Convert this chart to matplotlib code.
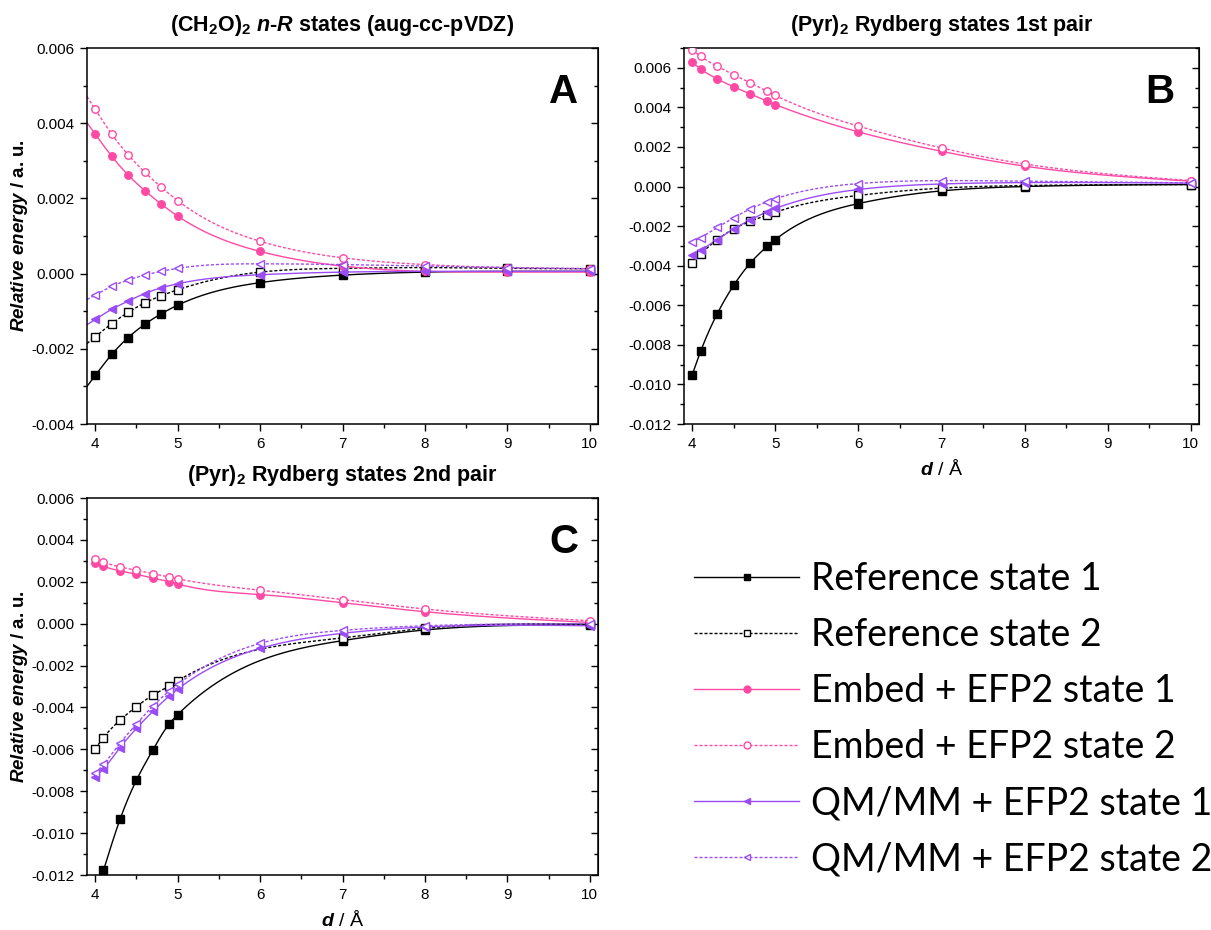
import numpy as np
import matplotlib
matplotlib.use("Agg")
import matplotlib.pyplot as plt
from matplotlib.lines import Line2D
from matplotlib.ticker import MultipleLocator, FormatStrFormatter

plt.rcParams['font.family'] = ['Liberation Sans', 'DejaVu Sans']
plt.rcParams['mathtext.fontset'] = 'custom'
plt.rcParams['mathtext.rm'] = 'Liberation Sans:bold'
plt.rcParams['mathtext.bf'] = 'Liberation Sans:bold'
plt.rcParams['mathtext.it'] = 'Liberation Sans:italic:bold'

# ---------------- data ----------------
A_x = [4.0, 4.2, 4.4, 4.6, 4.8, 5.0, 6, 7, 8, 9, 10]
A_ref1 = [-0.00271, -0.00215, -0.00170, -0.00135, -0.00107, -0.00084, -0.00024, -0.00004, 0.00004, 0.00006, 0.00006]
A_ref2 = [-0.00168, -0.00133, -0.00103, -0.00078, -0.00059, -0.00043, 0.00004, 0.00014, 0.00016, 0.00014, 0.00013]
A_emb1 = [0.00371, 0.00312, 0.00262, 0.00221, 0.00185, 0.00153, 0.00059, 0.00020, 0.00006, 0.00004, 0.00004]
A_emb2 = [0.00437, 0.00371, 0.00316, 0.00270, 0.00230, 0.00194, 0.00086, 0.00042, 0.00024, 0.00016, 0.00013]
A_qm1 = [-0.00122, -0.00095, -0.00073, -0.00053, -0.00038, -0.00027, -0.00003, 0.00004, 0.00006, 0.00006, 0.00006]
A_qm2 = [-0.00057, -0.00034, -0.00017, -0.00004, 0.00006, 0.00014, 0.00026, 0.00024, 0.00020, 0.00016, 0.00013]

B_x = [4.0, 4.1, 4.3, 4.5, 4.7, 4.9, 5.0, 6, 7, 8, 10]
B_ref1 = [-0.00950, -0.00833, -0.00643, -0.00498, -0.00386, -0.00303, -0.00268, -0.00086, -0.00022, 0.00000, 0.00010]
B_ref2 = [-0.00386, -0.00342, -0.00268, -0.00214, -0.00175, -0.00145, -0.00130, -0.00045, -0.00008, 0.00005, 0.00010]
B_emb1 = [0.00628, 0.00594, 0.00544, 0.00503, 0.00468, 0.00431, 0.00414, 0.00276, 0.00178, 0.00103, 0.00027]
B_emb2 = [0.00692, 0.00658, 0.00608, 0.00564, 0.00524, 0.00481, 0.00460, 0.00305, 0.00195, 0.00114, 0.00030]
B_qm1 = [-0.00348, -0.00322, -0.00268, -0.00214, -0.00168, -0.00128, -0.00111, -0.00015, 0.00013, 0.00020, 0.00017]
B_qm2 = [-0.00281, -0.00258, -0.00207, -0.00157, -0.00113, -0.00077, -0.00062, 0.00015, 0.00030, 0.00027, 0.00019]

C_x = [4.0, 4.1, 4.3, 4.5, 4.7, 4.9, 5.0, 6, 7, 8, 10]
C_ref1_x = [4.1, 4.3, 4.5, 4.7, 4.9, 5.0, 7, 8, 10]
C_ref1 = [-0.01178, -0.00935, -0.00747, -0.00602, -0.00477, -0.00434, -0.00081, -0.00030, -0.00006]
C_ref2_x = [4.0, 4.1, 4.3, 4.5, 4.7, 4.9, 5.0, 7, 8, 10]
C_ref2 = [-0.00597, -0.00544, -0.00461, -0.00396, -0.00341, -0.00297, -0.00273, -0.00068, -0.00022, -0.00003]
C_emb1 = [0.00290, 0.00274, 0.00252, 0.00236, 0.00217, 0.00201, 0.00190, 0.00139, 0.00100, 0.00057, 0.00006]
C_emb2 = [0.00310, 0.00294, 0.00271, 0.00255, 0.00238, 0.00222, 0.00214, 0.00160, 0.00115, 0.00070, 0.00014]
C_qm1 = [-0.00731, -0.00693, -0.00592, -0.00500, -0.00418, -0.00345, -0.00313, -0.00118, -0.00046, -0.00016, -0.00010]
C_qm2 = [-0.00715, -0.00672, -0.00571, -0.00479, -0.00393, -0.00321, -0.00290, -0.00094, -0.00032, -0.00010, 0.00000]

labels = ["Reference state 1", "Reference state 2", "Embed + EFP2 state 1",
          "Embed + EFP2 state 2", "QM/MM + EFP2 state 1", "QM/MM + EFP2 state 2"]

BLACK = "#000000"
PINK = "#FF4AA5"
PURPLE = "#9B4DF5"
styles = [
    dict(color=BLACK, ls='-', marker='s', mfc=BLACK),
    dict(color=BLACK, ls=(0, (2.2, 1.4)), marker='s', mfc='white'),
    dict(color=PINK, ls='-', marker='o', mfc=PINK),
    dict(color=PINK, ls=(0, (2.2, 1.4)), marker='o', mfc='white'),
    dict(color=PURPLE, ls='-', marker='<', mfc=PURPLE),
    dict(color=PURPLE, ls=(0, (2.2, 1.4)), marker='<', mfc='white'),
]


def natural_spline(x, y, xs):
    x = np.asarray(x, float); y = np.asarray(y, float)
    n = len(x)
    h = np.diff(x)
    A = np.zeros((n, n)); r = np.zeros(n)
    A[0, 0] = 1; A[-1, -1] = 1
    for i in range(1, n - 1):
        A[i, i - 1] = h[i - 1]
        A[i, i] = 2 * (h[i - 1] + h[i])
        A[i, i + 1] = h[i]
        r[i] = 6 * ((y[i + 1] - y[i]) / h[i] - (y[i] - y[i - 1]) / h[i - 1])
    M = np.linalg.solve(A, r)
    idx = np.clip(np.searchsorted(x, xs) - 1, 0, n - 2)
    x0 = x[idx]; x1 = x[idx + 1]; hh = x1 - x0
    a = (x1 - xs) / hh; b = (xs - x0) / hh
    return (a * y[idx] + b * y[idx + 1]
            + ((a ** 3 - a) * M[idx] + (b ** 3 - b) * M[idx + 1]) * hh ** 2 / 6)


W, H = 1211, 930
fig = plt.figure(figsize=(W / 100, H / 100), dpi=100)


def add_ax(l, r, t, b):
    return fig.add_axes([l / W, 1 - b / H, (r - l) / W, (b - t) / H])


def style_axis(ax, ylo, yhi):
    ax.set_xlim(3.9, 10.1)
    ax.set_ylim(ylo, yhi)
    ax.xaxis.set_major_locator(MultipleLocator(1))
    ax.xaxis.set_minor_locator(MultipleLocator(0.5))
    ax.yaxis.set_major_locator(MultipleLocator(0.002))
    ax.yaxis.set_minor_locator(MultipleLocator(0.001))
    ax.yaxis.set_major_formatter(FormatStrFormatter('%.3f'))
    ax.tick_params(which='major', direction='out', length=5, width=1, labelsize=11, pad=4,
                   top=False, right=False)
    ax.tick_params(which='minor', direction='out', length=3, width=1, top=False, right=False)
    for s in ax.spines.values():
        s.set_linewidth(1.1)
    sec = ax.secondary_yaxis('right')
    sec.yaxis.set_major_locator(MultipleLocator(0.002))
    sec.yaxis.set_minor_locator(MultipleLocator(0.001))
    sec.tick_params(which='major', direction='in', length=5, width=1, labelright=False)
    sec.tick_params(which='minor', direction='in', length=3, width=1)


def draw(ax, xs_list, ys_list, extend_left=False):
    for (xv, yv), st in zip(zip(xs_list, ys_list), styles):
        xv = np.asarray(xv, float)
        start = 3.9 if extend_left else xv[0]
        xf = np.linspace(start, xv[-1], 400)
        yf = natural_spline(xv, yv, xf)
        ax.plot(xf, yf, color=st['color'], ls=st['ls'], lw=1.0, zorder=2)
        ax.plot(xv, yv, ls='none', marker=st['marker'], ms=5.4, mfc=st['mfc'],
                mec=st['color'], mew=1.0, zorder=3)


TFS = 15.5
# Panel A
axA = add_ax(87, 598, 48, 424)
style_axis(axA, -0.004, 0.006)
draw(axA, [A_x] * 6, [A_ref1, A_ref2, A_emb1, A_emb2, A_qm1, A_qm2], extend_left=True)
axA.set_title(r"(CH$_2$O)$_2$ $n$-$R$ states (aug-cc-pVDZ)", fontsize=TFS, fontweight='bold', pad=12)
axA.set_ylabel(r"$Relative\ energy$ / a. u.", fontsize=13.5, fontweight='bold', labelpad=1)
axA.text(0.962, 0.854, 'A', transform=axA.transAxes, ha='right', va='baseline', fontsize=29, fontweight='bold')

# Panel B
axB = add_ax(684, 1199, 48, 424)
style_axis(axB, -0.012, 0.007)
draw(axB, [B_x] * 6, [B_ref1, B_ref2, B_emb1, B_emb2, B_qm1, B_qm2])
axB.set_title(r"(Pyr)$_2$ Rydberg states 1st pair", fontsize=TFS, fontweight='bold', pad=12)
axB.set_xlabel(r"$d$ / Å", fontsize=14, labelpad=6)
axB.text(0.953, 0.854, 'B', transform=axB.transAxes, ha='right', va='baseline', fontsize=29, fontweight='bold')

# Panel C
axC = add_ax(87, 598, 498, 875)
style_axis(axC, -0.012, 0.006)
draw(axC, [C_ref1_x, C_ref2_x] + [C_x] * 4, [C_ref1, C_ref2, C_emb1, C_emb2, C_qm1, C_qm2])
axC.set_title(r"(Pyr)$_2$ Rydberg states 2nd pair", fontsize=TFS, fontweight='bold', pad=12)
axC.set_xlabel(r"$d$ / Å", fontsize=14, labelpad=6)
axC.set_ylabel(r"$Relative\ energy$ / a. u.", fontsize=13.5, fontweight='bold', labelpad=1)
axC.text(0.962, 0.854, 'C', transform=axC.transAxes, ha='right', va='baseline', fontsize=29, fontweight='bold')

# Legend
handles = [Line2D([], [], color=st['color'], ls=st['ls'], lw=1.0, marker=st['marker'],
                  ms=5.0, mfc=st['mfc'], mec=st['color'], mew=1.0) for st in styles]
fig.legend(handles, labels, loc='upper left', bbox_to_anchor=(694 / W, 1 - 561 / H),
           frameon=False, prop={'family': 'Lato', 'size': 27},
           handlelength=2.8, handletextpad=0.32, labelspacing=0.535, borderaxespad=0, borderpad=0)

fig.savefig("out.png", dpi=100)
